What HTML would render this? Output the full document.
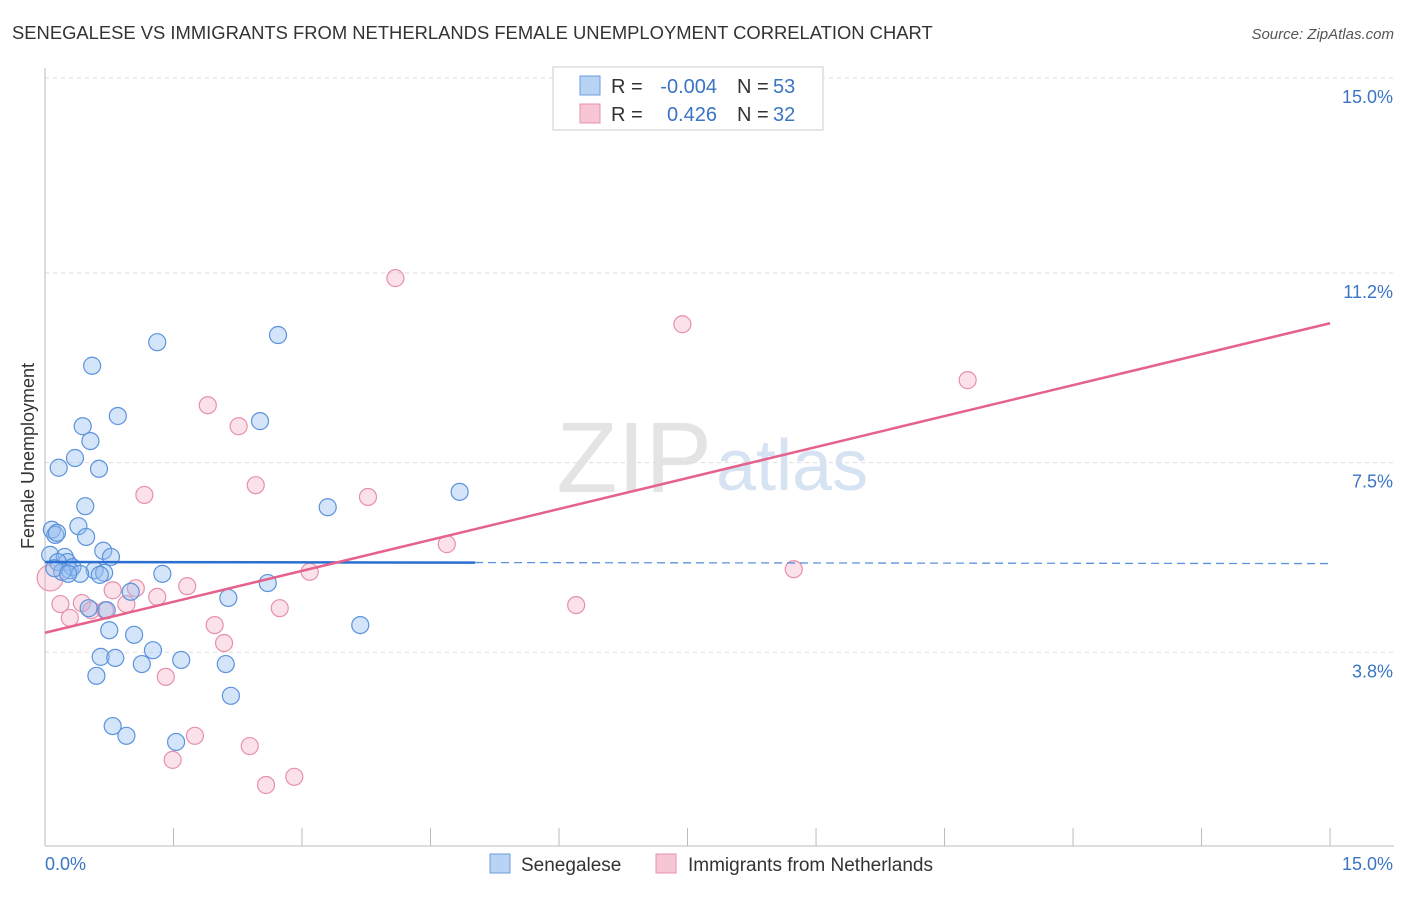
<!DOCTYPE html>
<html><head><meta charset="utf-8"><style>
body{margin:0;background:#fff;font-family:"Liberation Sans",sans-serif}
svg text{font-family:"Liberation Sans",sans-serif}
</style></head><body>
<svg id="c" width="1406" height="892" xmlns="http://www.w3.org/2000/svg">
<text x="12" y="39" font-size="18.4" fill="#333">SENEGALESE VS IMMIGRANTS FROM NETHERLANDS FEMALE UNEMPLOYMENT CORRELATION CHART</text>
<text x="1394" y="39" font-size="15" fill="#555" font-style="italic" text-anchor="end">Source: ZipAtlas.com</text>
<text x="712" y="492" font-size="100" fill="#e4e4e4" text-anchor="end" font-family="Liberation Serif">ZIP</text>
<text x="716" y="490" font-size="72" fill="#d6e3f3">atlas</text>
<g id="grid"></g><g id="axes"></g><g id="marks"></g>
<text transform="translate(34,456) rotate(-90)" font-size="18" fill="#333" text-anchor="middle">Female Unemployment</text>
<g>
<rect x="553" y="67" width="270" height="63" fill="#fff" stroke="#ccc"/>
<rect x="580" y="76" width="20" height="19" fill="#b9d3f5" stroke="#6a9ee0"/>
<rect x="580" y="104" width="20" height="19" fill="#f7c6d4" stroke="#e890ab"/>
<text x="611" y="93" font-size="20" fill="#333">R =</text>
<text x="717" y="93" font-size="20" fill="#3a75c4" text-anchor="end">-0.004</text>
<text x="737" y="93" font-size="20" fill="#333">N =</text>
<text x="773" y="93" font-size="20" fill="#3a75c4">53</text>
<text x="611" y="121" font-size="20" fill="#333">R =</text>
<text x="717" y="121" font-size="20" fill="#3a75c4" text-anchor="end">0.426</text>
<text x="737" y="121" font-size="20" fill="#333">N =</text>
<text x="773" y="121" font-size="20" fill="#3a75c4">32</text>
</g>
<g>
<rect x="490" y="854" width="20" height="19" fill="#b9d3f5" stroke="#6a9ee0"/>
<text x="521" y="871" font-size="19" fill="#333">Senegalese</text>
<rect x="656" y="854" width="20" height="19" fill="#f7c6d4" stroke="#e890ab"/>
<text x="688" y="871" font-size="19" fill="#333">Immigrants from Netherlands</text>
</g>
</svg>
<script>
const blueX=[.08,.12,.06,.14,.16,.23,.26,.29,.32,.35,.39,.44,.47,.48,.51,.53,.55,.58,.60,.63,.65,.68,.69,.72,.75,.77,.79,.82,.85,.95,1.00,1.04,1.13,1.26,1.31,1.37,1.53,1.59,2.11,2.14,2.17,2.51,2.60,2.72,3.30,3.68,4.84,.15,.20,.41,.64,.11,.27];
const blueY=[6.19,6.09,5.70,6.13,7.40,5.66,5.56,5.40,5.46,7.59,6.26,8.21,6.65,6.05,4.66,7.92,9.39,5.40,3.34,7.38,3.71,5.78,5.35,4.62,4.23,5.66,2.36,3.69,8.41,2.17,4.98,4.14,3.57,3.84,9.85,5.33,2.05,3.65,3.57,4.86,2.95,8.31,5.15,9.99,6.63,4.33,6.93,5.56,5.37,5.33,5.31,5.44,5.33];
const pinkX=[.06,.18,.29,.43,.54,.70,.79,.95,1.06,1.16,1.31,1.41,1.49,1.66,1.75,1.90,1.98,2.09,2.26,2.39,2.46,2.58,2.74,2.91,3.09,3.77,4.09,4.69,6.20,7.44,8.74,10.77];
const pinkY=[5.25,4.74,4.47,4.76,4.62,4.62,5.01,4.74,5.05,6.87,4.88,3.32,1.70,5.09,2.17,8.62,4.33,3.98,8.21,1.97,7.06,1.21,4.66,1.37,5.37,6.83,11.10,5.91,4.72,10.20,5.42,9.11];
const yTicks=[3.8,7.5,11.2,15.0];
const xTickLabels=["0.0%","15.0%"];
const blueLine=[5.56,5.53];
const pinkLine=[4.18,10.22];
const sx=v=>45+v*85.67, sy=v=>847-v*51.25;
const NS="http://www.w3.org/2000/svg";
function mk(t,a,p){const e=document.createElementNS(NS,t);for(const k in a)e.setAttribute(k,a[k]);p.appendChild(e);return e;}
const g=document.getElementById('grid'),ax=document.getElementById('axes'),m=document.getElementById('marks');
yTicks.forEach(v=>{const y=v===15?78:sy(v);
const l=mk('line',{x1:45,x2:1394,y1:y,y2:y,stroke:'#ddd','stroke-dasharray':'4,4'},g);


const t=mk('text',{x:1393,y:y+25,'font-size':18,fill:'#3a75c4','text-anchor':'end'},ax);t.textContent=v.toFixed(1)+'%';

});
mk('line',{x1:45,x2:45,y1:68,y2:846,stroke:'#bbb'},ax);
mk('line',{x1:45,x2:1394,y1:846,y2:846,stroke:'#bbb'},ax);
for(let i=0;i<=10;i++){const x=sx(i*1.5);mk('line',{x1:x,x2:x,y1:828,y2:846,stroke:'#bbb'},ax);}
const t0=mk('text',{x:45,y:870,'font-size':18,fill:'#3a75c4'},ax);t0.textContent=xTickLabels[0];


const t1=mk('text',{x:1393,y:870,'font-size':18,fill:'#3a75c4','text-anchor':'end'},ax);t1.textContent=xTickLabels[1];


pinkX.forEach((x,i)=>{const c=mk('circle',{cx:sx(x),cy:sy(pinkY[i]),r:i===0?13:8.5,fill:'rgba(244,170,194,0.35)',stroke:'#e890ab','stroke-width':1.2},m);

});
blueX.forEach((x,i)=>{const c=mk('circle',{cx:sx(x),cy:sy(blueY[i]),r:8.5,fill:'rgba(150,190,240,0.4)',stroke:'#5b93dc','stroke-width':1.2},m);

});
const bv=x=>blueLine[0]+(blueLine[1]-blueLine[0])*x/15;
const b1=mk('line',{x1:sx(0),y1:sy(bv(0)),x2:sx(5.02),y2:sy(bv(5.02)),stroke:'#2b6fd0','stroke-width':2.5},m);


const b2=mk('line',{x1:sx(5.02),y1:sy(bv(5.02)),x2:sx(15),y2:sy(bv(15)),stroke:'#5b93dc','stroke-width':1.3,'stroke-dasharray':'8,5'},m);


const p1=mk('line',{x1:sx(0),y1:sy(pinkLine[0]),x2:sx(15),y2:sy(pinkLine[1]),stroke:'#e4628c','stroke-width':2.5},m);


</script>
</body></html>
